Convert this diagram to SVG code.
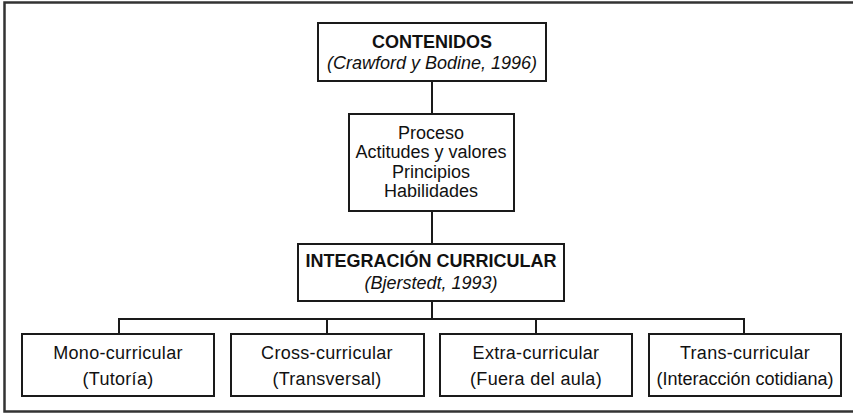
<svg xmlns="http://www.w3.org/2000/svg" width="853" height="414" viewBox="0 0 853 414">
<style>
.box{fill:#fff;stroke:#1a1a1a;stroke-width:2}
.ln{fill:none;stroke:#1a1a1a;stroke-width:2}
text{font-family:"Liberation Sans",Arial,sans-serif;font-size:18px;fill:#111;text-anchor:middle}
.b{font-weight:bold}
.i{font-style:italic}
.s{letter-spacing:0.3px}
</style>
<rect width="853" height="414" fill="#fff"/>
<path d="M853 2.5H4.5V411.5H853" fill="none" stroke="#333" stroke-width="2.5"/>
<g id="connectors">
<path class="ln" d="M432 81V114M432 211V244M432 301V319M119 334V319H744V334M327 319V334M536 319V334"/>
</g>
<g id="contenidos">
<rect class="box" x="318" y="23" width="228" height="58"/>
<text class="b" x="432" y="48">CONTENIDOS</text>
<text class="i" x="432" y="69">(Crawford y Bodine, 1996)</text>
</g>
<g id="lista">
<rect class="box" x="349" y="114" width="165" height="97"/>
<text x="431" y="139">Proceso</text>
<text x="431" y="158">Actitudes y valores</text>
<text x="431" y="178">Principios</text>
<text x="431" y="197">Habilidades</text>
</g>
<g id="integracion">
<rect class="box" x="298" y="244" width="266" height="57"/>
<text class="b" x="431" y="267">INTEGRACIÓN CURRICULAR</text>
<text class="i" x="431" y="289">(Bjerstedt, 1993)</text>
</g>
<g id="mono">
<rect class="box" x="22" y="334" width="192" height="62"/>
<text class="s" x="118" y="359">Mono-curricular</text>
<text class="s" x="118" y="385">(Tutoría)</text>
</g>
<g id="cross">
<rect class="box" x="231" y="334" width="193" height="62"/>
<text class="s" x="327" y="359">Cross-curricular</text>
<text class="s" x="327" y="385">(Transversal)</text>
</g>
<g id="extra">
<rect class="box" x="440" y="334" width="192" height="62"/>
<text class="s" x="536" y="359">Extra-curricular</text>
<text class="s" x="536" y="385">(Fuera del aula)</text>
</g>
<g id="trans">
<rect class="box" x="649" y="334" width="192" height="62"/>
<text class="s" x="745" y="359">Trans-curricular</text>
<text x="745" y="385">(Interacción cotidiana)</text>
</g>
</svg>
